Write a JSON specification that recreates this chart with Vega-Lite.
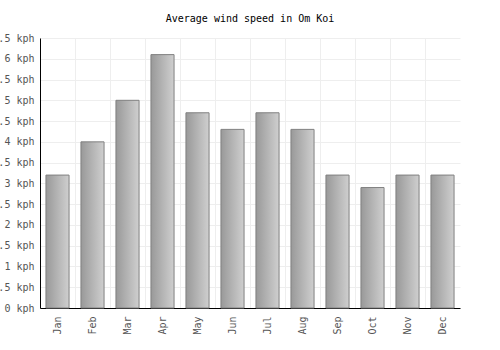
{
  "$schema": "https://vega.github.io/schema/vega-lite/v6.json",
  "autosize": "none",
  "width": 420,
  "height": 270,
  "padding": {"left": 40, "top": 38, "right": 40, "bottom": 42},
  "background": "white",
  "title": {"text": "Average wind speed in Om Koi", "font": "DejaVu Sans Mono", "fontSize": 10, "fontWeight": "normal", "color": "#000", "offset": 9, "anchor": "middle"},
  "data": {"values": [
    {"month": "Jan", "speed": 3.2},
    {"month": "Feb", "speed": 4.0},
    {"month": "Mar", "speed": 5.0},
    {"month": "Apr", "speed": 6.1},
    {"month": "May", "speed": 4.7},
    {"month": "Jun", "speed": 4.3},
    {"month": "Jul", "speed": 4.7},
    {"month": "Aug", "speed": 4.3},
    {"month": "Sep", "speed": 3.2},
    {"month": "Oct", "speed": 2.9},
    {"month": "Nov", "speed": 3.2},
    {"month": "Dec", "speed": 3.2}
  ]},
  "mark": {
    "type": "bar",
    "width": {"band": 0.66},
    "stroke": "#808080",
    "strokeWidth": 1,
    "color": {"gradient": "linear", "x1": 0, "x2": 1, "y1": 0, "y2": 0, "stops": [{"offset": 0, "color": "#999999"}, {"offset": 1, "color": "#cfcfcf"}]}
  },
  "encoding": {
    "x": {
      "field": "month", "type": "nominal", "sort": null,
      "scale": {"paddingInner": 0, "paddingOuter": 0},
      "axis": {"title": null, "labelAngle": -90, "labelFont": "DejaVu Sans Mono", "labelFontSize": 10, "labelColor": "#555", "domainColor": "#000", "domainWidth": 1, "ticks": false, "labelPadding": 8, "grid": true, "gridColor": "#eeeeee", "bandPosition": 0}
    },
    "y": {
      "field": "speed", "type": "quantitative",
      "scale": {"domain": [0, 6.5], "nice": false},
      "axis": {"title": null, "values": [0, 0.5, 1, 1.5, 2, 2.5, 3, 3.5, 4, 4.5, 5, 5.5, 6, 6.5], "labelExpr": "datum.value + ' kph'", "labelFont": "DejaVu Sans Mono", "labelFontSize": 10, "labelColor": "#555", "domainColor": "#000", "domainWidth": 1, "ticks": false, "labelPadding": 6, "grid": true, "gridColor": "#eeeeee"}
    }
  },
  "config": {"view": {"stroke": null}}
}
